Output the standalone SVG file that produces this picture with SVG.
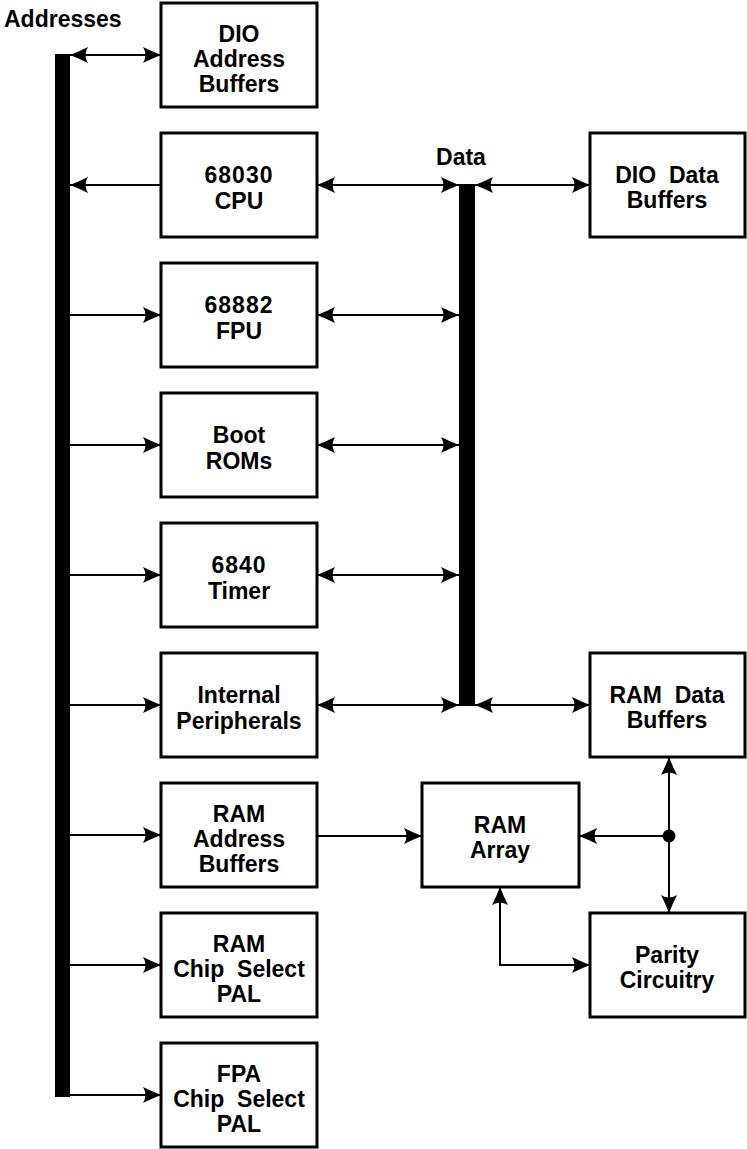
<svg xmlns="http://www.w3.org/2000/svg" width="747" height="1149" viewBox="0 0 747 1149">
<style>
.box{fill:#fff;stroke:#000;stroke-width:3}
.t{font-family:"Liberation Sans",Arial,sans-serif;font-size:23px;font-weight:bold;fill:#000;text-anchor:middle}
.lbl{font-family:"Liberation Sans",Arial,sans-serif;font-size:23px;font-weight:bold;fill:#000}
.num{letter-spacing:1px}
.ln{fill:none;stroke:#000;stroke-width:2}
.bus{fill:#000}
</style>
<defs>
<marker id="ah" viewBox="-19 -9 20 18" refX="0" refY="0" markerWidth="20" markerHeight="18" markerUnits="userSpaceOnUse" orient="auto-start-reverse">
<path d="M0,0 Q-9,-3.5 -18,-8 Q-13,0 -18,8 Q-9,3.5 0,0 Z" fill="#000"/>
</marker>
</defs>
<rect width="747" height="1149" fill="#fff"/>
<text class="lbl" x="4" y="27">Addresses</text>
<text class="lbl" x="461" y="165" text-anchor="middle">Data</text>
<g id="buses">
<rect id="address-bus" class="bus" x="55" y="54" width="15" height="1043"/>
<rect id="data-bus" class="bus" x="459" y="184" width="16" height="522"/>
</g>
<g id="connectors">
<line class="ln" x1="70" y1="55" x2="161" y2="55" marker-start="url(#ah)" marker-end="url(#ah)"/>
<line class="ln" x1="161" y1="185" x2="70" y2="185" marker-end="url(#ah)"/>
<line class="ln" x1="70" y1="315" x2="161" y2="315" marker-end="url(#ah)"/>
<line class="ln" x1="70" y1="445" x2="161" y2="445" marker-end="url(#ah)"/>
<line class="ln" x1="70" y1="575" x2="161" y2="575" marker-end="url(#ah)"/>
<line class="ln" x1="70" y1="705" x2="161" y2="705" marker-end="url(#ah)"/>
<line class="ln" x1="70" y1="835" x2="161" y2="835" marker-end="url(#ah)"/>
<line class="ln" x1="70" y1="965" x2="161" y2="965" marker-end="url(#ah)"/>
<line class="ln" x1="70" y1="1095" x2="161" y2="1095" marker-end="url(#ah)"/>
<line class="ln" x1="317" y1="185" x2="459" y2="185" marker-start="url(#ah)" marker-end="url(#ah)"/>
<line class="ln" x1="317" y1="315" x2="459" y2="315" marker-start="url(#ah)" marker-end="url(#ah)"/>
<line class="ln" x1="317" y1="445" x2="459" y2="445" marker-start="url(#ah)" marker-end="url(#ah)"/>
<line class="ln" x1="317" y1="575" x2="459" y2="575" marker-start="url(#ah)" marker-end="url(#ah)"/>
<line class="ln" x1="317" y1="705" x2="459" y2="705" marker-start="url(#ah)" marker-end="url(#ah)"/>
<line class="ln" x1="475" y1="185" x2="590" y2="185" marker-start="url(#ah)" marker-end="url(#ah)"/>
<line class="ln" x1="475" y1="705" x2="590" y2="705" marker-start="url(#ah)" marker-end="url(#ah)"/>
<line class="ln" x1="317" y1="836" x2="422" y2="836" marker-end="url(#ah)"/>
<line class="ln" x1="669" y1="836" x2="579" y2="836" marker-end="url(#ah)"/>
<line class="ln" x1="669" y1="757" x2="669" y2="913" marker-start="url(#ah)" marker-end="url(#ah)"/>
<circle cx="669" cy="836" r="6.5" fill="#000"/>
<polyline class="ln" points="500,887 500,965 590,965" marker-start="url(#ah)" marker-end="url(#ah)"/>
</g>
<g id="dio-address-buffers">
<rect class="box" x="161" y="3" width="156" height="104"/>
<text class="t" x="239" y="42">DIO</text>
<text class="t" x="239" y="67">Address</text>
<text class="t" x="239" y="92">Buffers</text>
</g>
<g id="cpu">
<rect class="box" x="161" y="133" width="156" height="104"/>
<text class="t num" x="239" y="183">68030</text>
<text class="t" x="239" y="209">CPU</text>
</g>
<g id="fpu">
<rect class="box" x="161" y="263" width="156" height="104"/>
<text class="t num" x="239" y="313">68882</text>
<text class="t" x="239" y="339">FPU</text>
</g>
<g id="boot-roms">
<rect class="box" x="161" y="393" width="156" height="104"/>
<text class="t" x="239" y="443">Boot</text>
<text class="t" x="239" y="469">ROMs</text>
</g>
<g id="timer">
<rect class="box" x="161" y="523" width="156" height="104"/>
<text class="t num" x="239" y="573">6840</text>
<text class="t" x="239" y="599">Timer</text>
</g>
<g id="internal-peripherals">
<rect class="box" x="161" y="653" width="156" height="104"/>
<text class="t" x="239" y="703">Internal</text>
<text class="t" x="239" y="729">Peripherals</text>
</g>
<g id="ram-address-buffers">
<rect class="box" x="161" y="783" width="156" height="104"/>
<text class="t" x="239" y="822">RAM</text>
<text class="t" x="239" y="847">Address</text>
<text class="t" x="239" y="872">Buffers</text>
</g>
<g id="ram-chip-select-pal">
<rect class="box" x="161" y="913" width="156" height="104"/>
<text class="t" x="239" y="952">RAM</text>
<text class="t" x="239" y="977" xml:space="preserve">Chip  Select</text>
<text class="t" x="239" y="1002">PAL</text>
</g>
<g id="fpa-chip-select-pal">
<rect class="box" x="161" y="1043" width="156" height="104"/>
<text class="t" x="239" y="1082">FPA</text>
<text class="t" x="239" y="1107" xml:space="preserve">Chip  Select</text>
<text class="t" x="239" y="1132">PAL</text>
</g>
<g id="dio-data-buffers">
<rect class="box" x="590" y="133" width="155" height="104"/>
<text class="t" x="667" y="183" xml:space="preserve">DIO  Data</text>
<text class="t" x="667" y="208">Buffers</text>
</g>
<g id="ram-data-buffers">
<rect class="box" x="590" y="653" width="155" height="104"/>
<text class="t" x="667" y="703" xml:space="preserve">RAM  Data</text>
<text class="t" x="667" y="728">Buffers</text>
</g>
<g id="ram-array">
<rect class="box" x="422" y="783" width="157" height="104"/>
<text class="t" x="500" y="833">RAM</text>
<text class="t" x="500" y="858">Array</text>
</g>
<g id="parity-circuitry">
<rect class="box" x="590" y="913" width="155" height="104"/>
<text class="t" x="667" y="963">Parity</text>
<text class="t" x="667" y="988">Circuitry</text>
</g>
</svg>
